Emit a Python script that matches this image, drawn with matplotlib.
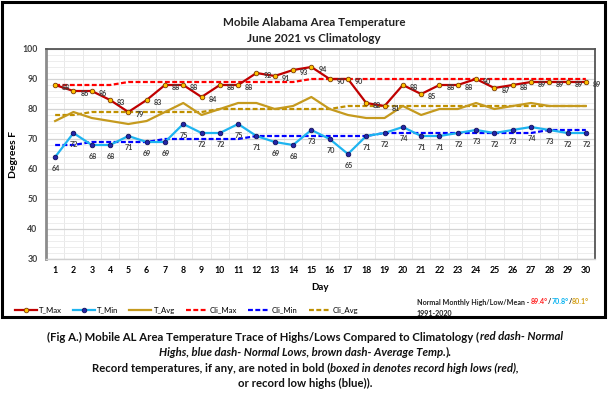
import matplotlib
matplotlib.use("Agg")
import matplotlib.pyplot as plt
from matplotlib.patches import Rectangle
from matplotlib.ticker import MultipleLocator

plt.rcParams['font.family'] = ['Lato', 'DejaVu Sans']

# Data
days = list(range(1, 31))
t_max = [88, 86, 86, 83, 79, 83, 88, 88, 84, 88, 88, 92, 91, 93, 94,
         90, 90, 82, 81, 88, 85, 88, 88, 90, 87, 88, 89, 89, 89, 89]
t_min = [64, 72, 68, 68, 71, 69, 69, 75, 72, 72, 75, 71, 69, 68, 73,
         70, 65, 71, 72, 74, 71, 71, 72, 73, 72, 73, 74, 73, 72, 72]
t_avg = [76, 79, 77, 76, 75, 76, 79, 82, 78, 80, 82, 82, 80, 81, 84,
         80, 78, 77, 77, 81, 78, 80, 80, 82, 80, 81, 82, 81, 81, 81]
cli_max = [88, 88, 88, 88, 89, 89, 89, 89, 89, 89, 89, 89, 89, 89, 90,
           90, 90, 90, 90, 90, 90, 90, 90, 90, 90, 90, 90, 90, 90, 90]
cli_min = [68, 68, 69, 69, 69, 69, 70, 70, 70, 70, 70, 71, 71, 71, 71,
           71, 71, 71, 72, 72, 72, 72, 72, 72, 72, 72, 72, 73, 73, 73]
cli_avg = [78, 78, 79, 79, 79, 79, 79, 79, 79, 80, 80, 80, 80, 80, 80,
           80, 81, 81, 81, 81, 81, 81, 81, 81, 81, 81, 81, 81, 81, 81]
normals = ["89.4°", "70.8°", "80.1°"]

W, H = 608, 393
fig = plt.figure(figsize=(W / 100, H / 100), dpi=100)
ax = fig.add_axes([46 / W, 1 - 259 / H, 549 / W, 210 / H])

# Outer black frame of the chart
fig.patches.append(Rectangle((2 / W, 1 - 317 / H), 603 / W, 315 / H,
                             transform=fig.transFigure, fill=False,
                             edgecolor='black', linewidth=2.2))

dash = (2.2, 1.1)
ax.plot(days, cli_max, color='#FF0000', lw=1.6, dashes=dash, label='Cli_Max', zorder=2)
ax.plot(days, cli_min, color='#0000FF', lw=1.6, dashes=dash, label='Cli_Min', zorder=2)
ax.plot(days, cli_avg, color='#BF9000', lw=1.6, dashes=dash, label='Cli_Avg', zorder=2)
l_avg, = ax.plot(days, t_avg, color='#C59A1E', lw=1.6, label='T_Avg', zorder=3)
l_max, = ax.plot(days, t_max, color='#C00000', lw=1.6, marker='o', ms=3.3,
                 mfc='#FFC000', mec='#7A3A00', mew=0.6, label='T_Max', zorder=4)
l_min, = ax.plot(days, t_min, color='#1EB4F0', lw=1.6, marker='o', ms=3.3,
                 mfc='#2424A8', mec='#10105A', mew=0.6, label='T_Min', zorder=4)

lab_kw = dict(fontsize=5.2, fontweight='bold', color='#404040', zorder=5)
for d, v in zip(days, t_max):
    ax.annotate(str(v), (d, v), xytext=(8, -1.5), textcoords='offset points',
                ha='center', va='center', **lab_kw)
for d, v in zip(days, t_min):
    ax.annotate(str(v), (d, v), xytext=(0.5, -8.5), textcoords='offset points',
                ha='center', va='center', **lab_kw)

ax.set_xlim(0.5, 30.5)
ax.set_ylim(30, 100)
ax.set_xticks(days)
ax.yaxis.set_major_locator(MultipleLocator(10))
ax.yaxis.set_minor_locator(MultipleLocator(2))
ax.xaxis.set_minor_locator(MultipleLocator(0.5))
ax.grid(True, which='major', axis='y', color='#D4D4D4', lw=0.9)
ax.grid(True, which='minor', axis='y', color='#EDEDED', lw=0.7)
ax.grid(True, which='minor', axis='x', color='#E8E8E8', lw=0.7)
ax.set_axisbelow(True)
ax.tick_params(which='both', length=0)
ax.tick_params(axis='x', pad=5, labelsize=6.3)
ax.tick_params(axis='y', pad=6, labelsize=6.3, labelcolor='#404040')
for lbl in ax.get_xticklabels() + ax.get_yticklabels():
    lbl.set_fontweight('bold')

ax.spines['left'].set_color('#8C8C8C')
ax.spines['left'].set_linewidth(2)
ax.spines['bottom'].set_color('#D0D0D0')
ax.spines['bottom'].set_linewidth(1)
for s in ('top', 'right'):
    ax.spines[s].set_color('#555555')
    ax.spines[s].set_linewidth(1.3)

ax.set_ylabel('Degrees F', fontsize=7.5, fontweight='bold')
ax.yaxis.set_label_coords(-0.051, 0.5)
ax.set_xlabel('Day', fontsize=7, fontweight='bold')
ax.xaxis.set_label_coords(0.5, -0.114)

fig.text(314 / W, 1 - 22 / H, 'Mobile Alabama Area Temperature', ha='center', va='center',
         fontsize=8.4, fontweight='bold', color='#222222')
fig.text(314 / W, 1 - 38 / H, 'June 2021 vs Climatology', ha='center', va='center',
         fontsize=8.4, fontweight='bold', color='#222222')

handles = [l_max, l_min, l_avg] + ax.get_lines()[:3]
fig.legend(handles, [h.get_label() for h in handles], loc='center left',
           bbox_to_anchor=(15 / W, 1 - 310 / H), ncol=6, frameon=False,
           fontsize=5.6, handlelength=2.8, handletextpad=0.3, columnspacing=1.4,
           borderaxespad=0, borderpad=0)

renderer = fig.canvas.get_renderer()


def part_width(s, **kw):
    # width of a text run, spaces included
    a = fig.text(0, 0, '|' + s + '|', **kw)
    b = fig.text(0, 0, '||', **kw)
    w = a.get_window_extent(renderer).width - b.get_window_extent(renderer).width
    a.remove()
    b.remove()
    return w


def rich_line(x_px, y_px, parts, ha='center', **kw):
    widths = [part_width(s, **{**kw, **st}) for s, st in parts]
    x = x_px - sum(widths) / 2 if ha == 'center' else x_px
    for (s, st), w in zip(parts, widths):
        fig.text(x / W, 1 - y_px / H, s, ha='left', va='center', **{**kw, **st})
        x += w


note_kw = dict(fontsize=5.1, fontweight='bold', color='#222222')
rich_line(417, 302, [('Normal Monthly High/Low/Mean - ', {}),
                     (normals[0], {'color': '#FF2020'}), ('/', {}),
                     (normals[1], {'color': '#00B0F0'}), ('/', {}),
                     (normals[2], {'color': '#D4A017'})], ha='left', **note_kw)
fig.text(417 / W, 1 - 313 / H, '1991-2020', ha='left', va='center', **note_kw)

cap_kw = dict(fontsize=8.2, fontweight='bold', color='#111111')
it = {'fontstyle': 'italic'}
rich_line(305, 337, [('(Fig A.) Mobile AL Area Temperature Trace of Highs/Lows Compared to Climatology (', {}),
                     ('red dash- Normal', it)], **cap_kw)
rich_line(305, 352, [('Highs, blue dash- Normal Lows, brown dash- Average Temp.', it),
                     (').', {})], **cap_kw)
rich_line(305, 368, [('Record temperatures, if any, are noted in bold (', {}),
                     ('boxed in denotes record high lows (red),', it)], **cap_kw)
rich_line(305, 383, [('or record low highs (blue)).', {})], **cap_kw)

fig.savefig('out.png', dpi=100)
